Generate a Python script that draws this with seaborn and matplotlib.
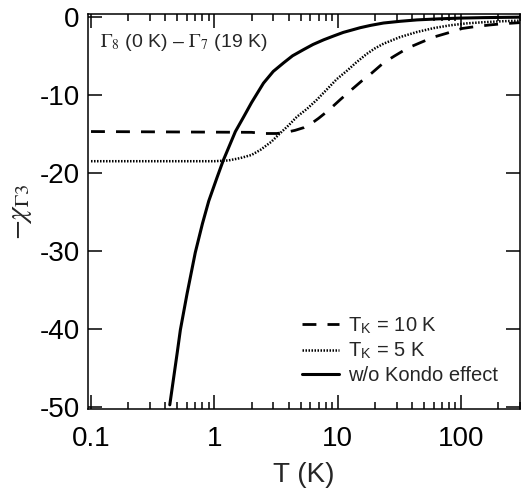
import matplotlib
matplotlib.use("Agg")
import matplotlib.pyplot as plt
import seaborn as sns

# curves (T in K, value of -chi)
t_solid = [0.435, 0.5, 0.53, 0.6, 0.7, 0.8, 0.9, 1.05, 1.18, 1.48, 1.73, 2.0, 2.5,
           3.0, 3.64, 4.3, 5.29, 6.3, 7.69, 9.3, 11.1, 13, 15.2, 18.5, 23.5, 32,
           43.9, 65, 98, 150, 300]
chi_solid = [-49.7, -43.0, -40.1, -35.5, -30.2, -26.5, -23.6, -20.6, -18.4, -14.7,
             -12.8, -11.0, -8.5, -7.0, -5.9, -5.0, -4.2, -3.55, -2.95, -2.45, -2.0,
             -1.7, -1.4, -1.1, -0.8, -0.58, -0.4, -0.27, -0.17, -0.11, -0.05]

t_tk5 = [0.1, 1.0, 1.3, 1.62, 2.0, 2.36, 2.9, 3.42, 4.0, 4.67, 5.63, 6.8, 8.17,
         9.8, 11.9, 14, 17.2, 20, 23.5, 32, 43.9, 60, 81, 110, 151, 210, 300]
chi_tk5 = [-18.5, -18.5, -18.4, -18.1, -17.7, -17.05, -16.0, -14.9, -13.9, -12.8,
           -11.8, -10.6, -9.3, -8.0, -6.9, -5.9, -4.75, -4.05, -3.45, -2.6, -1.95,
           -1.45, -1.1, -0.85, -0.7, -0.58, -0.5]

t_tk10 = [0.1, 2.0, 2.5, 3.2, 3.8, 4.5, 5.3, 6.2, 7.0, 8.4, 10.5, 12.6, 15.7, 18.9,
          23.5, 29, 37, 47, 60, 77, 102, 125, 170, 215, 300]
chi_tk10 = [-14.7, -14.8, -14.95, -14.95, -14.8, -14.55, -14.2, -13.6, -13.0, -12.0,
            -10.6, -9.5, -8.2, -7.2, -5.9, -5.0, -4.0, -3.3, -2.6, -2.1, -1.5,
            -1.3, -1.05, -0.9, -0.75]

labels = [r"T$_{\mathregular{K}}$ = 10 K", r"T$_{\mathregular{K}}$ = 5 K",
          "w/o Kondo effect"]

sns.set_style("ticks")
plt.rcParams["font.family"] = ["Liberation Sans", "DejaVu Sans"]
plt.rcParams["mathtext.fontset"] = "stix"
plt.rcParams["axes.unicode_minus"] = False

fig = plt.figure(figsize=(5.21, 4.93), dpi=100)
ax = fig.add_axes([0.169, 0.170, 0.829, 0.802])

sns.lineplot(x=t_tk10, y=chi_tk10, ax=ax, color="black", lw=2.0, label=labels[0])
ax.lines[-1].set_dashes((5, 4))
sns.lineplot(x=t_tk5, y=chi_tk5, ax=ax, color="black", lw=1.8, label=labels[1])
ax.lines[-1].set_dashes((0.6, 0.6))
sns.lineplot(x=t_solid, y=chi_solid, ax=ax, color="black", lw=2.2, label=labels[2])

ax.set_xscale("log")
ax.set_xlim(0.0946, 300)
ax.set_ylim(-50.26, 0.38)
ax.set_yticks([0, -10, -20, -30, -40, -50])
ax.set_xticks([0.1, 1, 10, 100])
ax.set_xticklabels(["0.1", "1", "10", "100"])

for s in ax.spines.values():
    s.set_linewidth(1.1)
    s.set_color("black")
ax.tick_params(which="both", direction="in", top=True, right=True,
               labelsize=20, width=1.1, colors="black")
ax.tick_params(which="major", length=10)
ax.tick_params(which="minor", length=5)
ax.tick_params(axis="x", pad=12)
ax.tick_params(axis="y", pad=6)

ax.set_xlabel("T (K)", fontsize=20, labelpad=7)
ax.set_ylabel(r"$-\chi_{\Gamma 3}$", fontsize=21, labelpad=4)

ax.text(0.028, 0.927, r"$\Gamma_8$ (0 K) – $\Gamma_7$ (19 K)", fontsize=14,
        transform=ax.transAxes, va="center")

leg = ax.legend(loc="lower right", frameon=False, fontsize=14.5,
                handlelength=1.85, handletextpad=0.45, labelspacing=0.25,
                borderaxespad=0, bbox_to_anchor=(0.968, 0.04))

fig.savefig("out.png", dpi=100)
